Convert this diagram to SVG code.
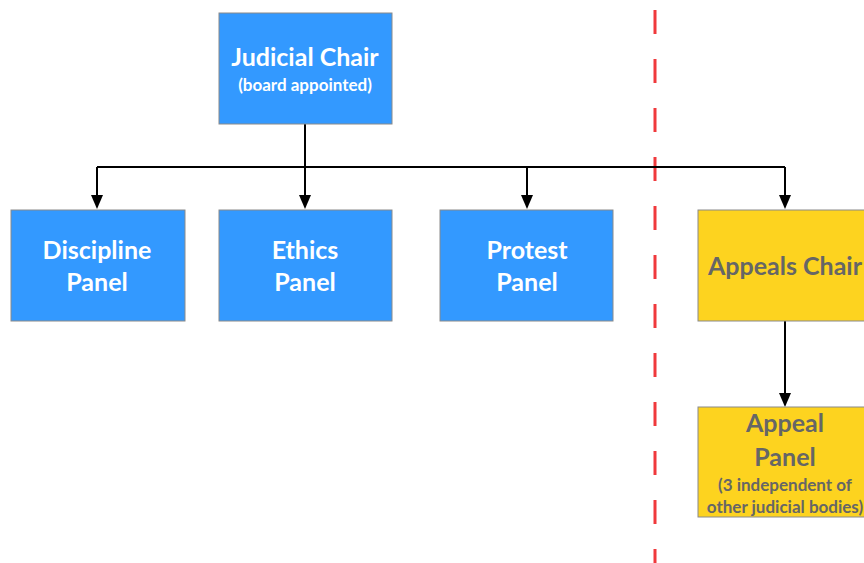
<svg xmlns="http://www.w3.org/2000/svg" width="864" height="563" viewBox="0 0 864 563">
<style>
.blue{fill:#3399FF;stroke:#8a8a8a;stroke-width:1}
.yel{fill:#FDD31F;stroke:#8a8a8a;stroke-width:1}
.t{font-family:Lato,"Open Sans","Liberation Sans",sans-serif;font-weight:bold;text-anchor:middle}
.w{fill:#ffffff}
.g{fill:#666666}
.c{fill:none;stroke:#000;stroke-width:2}
</style>
<rect width="864" height="563" fill="#fff"/>
<line x1="655" y1="10" x2="655" y2="563" stroke="#F0393C" stroke-width="3" stroke-dasharray="24 25"/>
<g id="connectors">
<path class="c" d="M305,124 V167"/>
<path class="c" d="M97,167 H785"/>
<path class="c" d="M97,167 V200"/>
<path class="c" d="M305,167 V200"/>
<path class="c" d="M527,167 V200"/>
<path class="c" d="M785,167 V200"/>
<path class="c" d="M785,321 V398"/>
<path d="M91,195 L103,195 L97,209 Z"/>
<path d="M299,195 L311,195 L305,209 Z"/>
<path d="M521,195 L533,195 L527,209 Z"/>
<path d="M779,195 L791,195 L785,209 Z"/>
<path d="M779,393 L791,393 L785,407 Z"/>
</g>
<g id="judicial-chair">
<rect class="blue" x="219" y="13" width="173" height="111"/>
<text class="t w" x="305" y="66" font-size="25">Judicial Chair</text>
<text class="t w" x="305" y="91" font-size="17">(board appointed)</text>
</g>
<g id="discipline-panel">
<rect class="blue" x="11" y="210" width="174" height="111"/>
<text class="t w" x="97" y="259" font-size="25">Discipline</text>
<text class="t w" x="97" y="291" font-size="25">Panel</text>
</g>
<g id="ethics-panel">
<rect class="blue" x="219" y="210" width="173" height="111"/>
<text class="t w" x="305" y="259" font-size="25">Ethics</text>
<text class="t w" x="305" y="291" font-size="25">Panel</text>
</g>
<g id="protest-panel">
<rect class="blue" x="440" y="210" width="173" height="111"/>
<text class="t w" x="527" y="259" font-size="25">Protest</text>
<text class="t w" x="527" y="291" font-size="25">Panel</text>
</g>
<g id="appeals-chair">
<rect class="yel" x="698" y="210" width="174" height="111"/>
<text class="t g" x="785" y="275" font-size="25">Appeals Chair</text>
</g>
<g id="appeal-panel">
<rect class="yel" x="698" y="407" width="174" height="110"/>
<text class="t g" x="785" y="432" font-size="25">Appeal</text>
<text class="t g" x="785" y="466" font-size="25">Panel</text>
<text class="t g" x="785" y="491" font-size="17">(3 independent of</text>
<text class="t g" x="785" y="513" font-size="17">other judicial bodies)</text>
</g>
</svg>
